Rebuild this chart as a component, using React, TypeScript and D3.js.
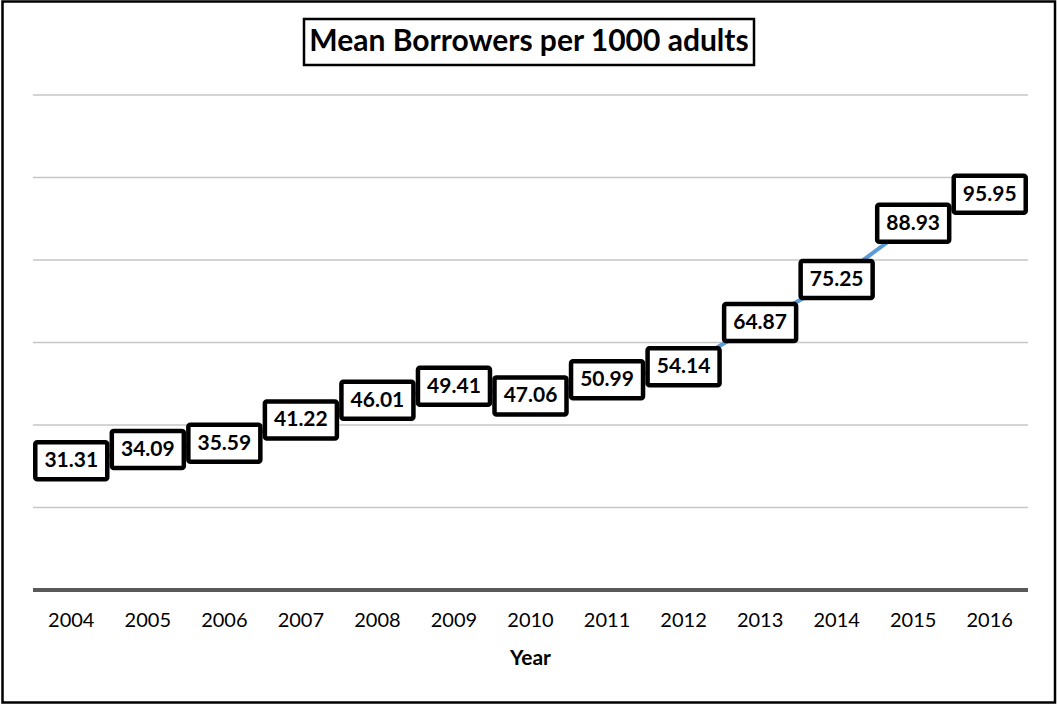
import React from "react";
import * as d3 from "d3";

const years = ["2004","2005","2006","2007","2008","2009","2010","2011","2012","2013","2014","2015","2016"];
const values = [31.31,34.09,35.59,41.22,46.01,49.41,47.06,50.99,54.14,64.87,75.25,88.93,95.95];
const yTicks = [0,20,40,60,80,100,120];
const title = "Mean Borrowers per 1000 adults";
const xTitle = "Year";

export default function App() {
  const W = 1057, H = 704;
  const left = 33, right = 1028, top = 95, bottom = 590;
  const x = d3.scaleBand<string>().domain(years).range([left, right]);
  const y = d3.scaleLinear().domain([0, 120]).range([bottom, top]);
  const cx = (yr: string) => (x(yr) as number) + x.bandwidth() / 2;
  const line = d3.line<number>().x((_, i) => cx(years[i])).y((v) => y(v));
  const font = "Lato, 'Open Sans', sans-serif";
  return (
    <svg width={W} height={H} style={{ position: "absolute", left: 0, top: 0, display: "block" }}>
      <rect x={0} y={0} width={W} height={H} fill="#fff" />
      <rect x={2.5} y={1.5} width={W - 4.5} height={H - 3} fill="none" stroke="#000" strokeWidth={2.5} />
      {yTicks.filter((t) => t > 0).map((t) => (
        <line key={t} x1={left} x2={right} y1={y(t)} y2={y(t)} stroke="#c6c6c6" strokeWidth={1.3} />
      ))}
      <line x1={left} x2={right} y1={y(0)} y2={y(0)} stroke="#595959" strokeWidth={4} />
      <path d={line(values) || ""} fill="none" stroke="#5b9bd5" strokeWidth={4} strokeLinejoin="round" />
      {values.map((v, i) => (
        <g key={i} transform={`translate(${cx(years[i])},${y(v)})`}>
          <rect x={-36} y={-18.5} width={72} height={37} rx={2} fill="#fff" stroke="#000" strokeWidth={4.5} />
          <text x={0} y={1} textAnchor="middle" dominantBaseline="middle" fontFamily={font} fontWeight={700} fontSize={21} fill="#000">
            {v.toFixed(2)}
          </text>
        </g>
      ))}
      {years.map((yr) => (
        <text key={yr} x={cx(yr)} y={622} textAnchor="middle" dominantBaseline="middle" fontFamily={font} fontSize={20} fill="#000">
          {yr}
        </text>
      ))}
      <text x={(left + right) / 2} y={660} textAnchor="middle" dominantBaseline="middle" fontFamily={font} fontWeight={700} fontSize={21} fill="#000">
        {xTitle}
      </text>
      <rect x={304} y={19} width={450} height={46} fill="#fff" stroke="#000" strokeWidth={2.5} />
      <text x={529} y={43} textAnchor="middle" dominantBaseline="middle" fontFamily={font} fontWeight={700} fontSize={30} fill="#000">
        {title}
      </text>
    </svg>
  );
}
